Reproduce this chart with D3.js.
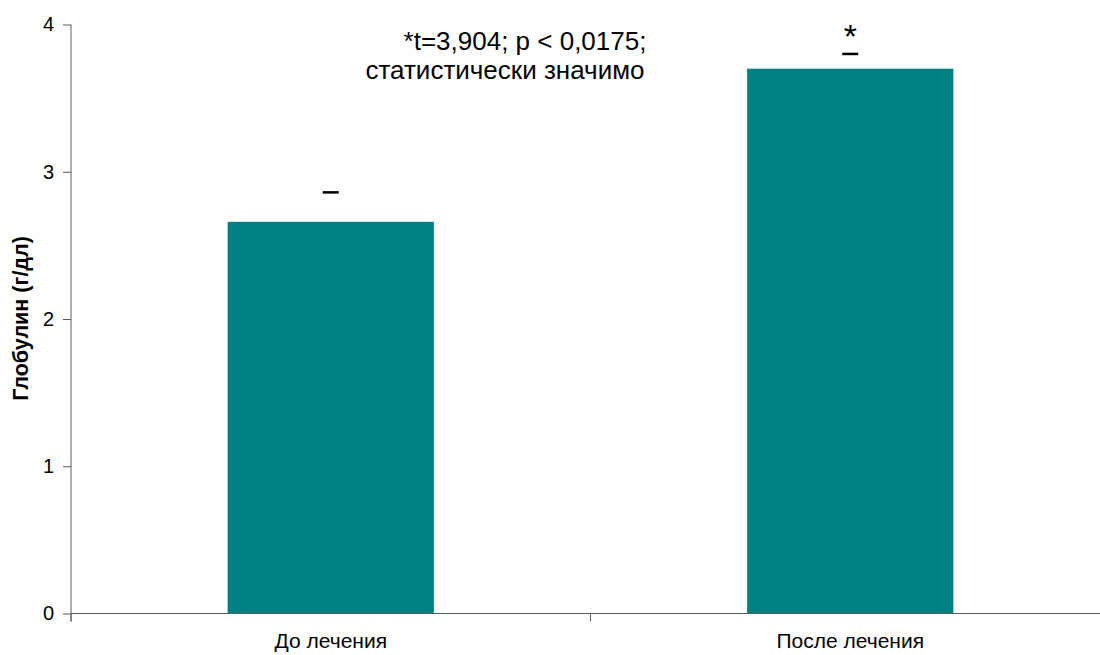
<!DOCTYPE html>
<html>
<head>
<meta charset="utf-8">
<script src="https://cdn.jsdelivr.net/npm/d3@7"></script>
<style>
  html, body { margin: 0; padding: 0; background: #fff; }
  svg { display: block; font-family: "Liberation Sans", Arial, sans-serif; }
</style>
</head>
<body>
<svg id="chart" width="1100" height="655"></svg>
<script>
// Globulin level before and after treatment (g/dl), mean with upper error cap
const categories = ["До лечения", "После лечения"];
const means = [2.66, 3.70];
const errors = [0.20, 0.10];
const significant = [false, true];
const yTicks = [0, 1, 2, 3, 4];
const yTitle = "Глобулин (г/дл)";
const noteLines = ["*t=3,904; p < 0,0175;", "статистически значимо"];

const svg = d3.select("#chart");
const plotLeft = 71, plotRight = 1110, plotTop = 24.5, plotBottom = 613.5;

const x = d3.scaleBand().domain(categories).range([plotLeft, plotRight]).padding(0);
const y = d3.scaleLinear().domain([0, 4]).range([plotBottom, plotTop]);
const barW = x.bandwidth() * 0.397;
const capW = 16;
const axisColor = "#5a5a5a";

// Bars
svg.selectAll("rect.bar").data(categories).join("rect")
  .attr("class", "bar")
  .attr("x", (d) => x(d) + x.bandwidth() / 2 - barW / 2)
  .attr("y", (d, i) => y(means[i]))
  .attr("width", barW)
  .attr("height", (d, i) => y(0) - y(means[i]))
  .attr("fill", "#008080");

// Error caps
svg.selectAll("line.cap").data(categories).join("line")
  .attr("class", "cap")
  .attr("x1", (d) => x(d) + x.bandwidth() / 2 - capW / 2)
  .attr("x2", (d) => x(d) + x.bandwidth() / 2 + capW / 2)
  .attr("y1", (d, i) => y(means[i] + errors[i]))
  .attr("y2", (d, i) => y(means[i] + errors[i]))
  .attr("stroke", "#000")
  .attr("stroke-width", 2.5);

// Significance marks
svg.selectAll("text.star").data(categories.filter((d, i) => significant[i])).join("text")
  .attr("class", "star")
  .attr("x", (d) => x(d) + x.bandwidth() / 2)
  .attr("y", (d) => y(means[categories.indexOf(d)] + errors[categories.indexOf(d)]) - 6)
  .attr("text-anchor", "middle")
  .attr("font-size", 34)
  .text("*");

// Y axis
const yAxis = svg.append("g")
  .attr("transform", `translate(${plotLeft},0)`)
  .call(d3.axisLeft(y).tickValues(yTicks).tickFormat(d3.format("d")).tickSize(8).tickPadding(9));
yAxis.select(".domain").attr("stroke", axisColor).attr("d", `M-0,${plotTop}V${plotBottom + 8}`);
yAxis.selectAll(".tick line").attr("stroke", axisColor);
yAxis.selectAll(".tick text").attr("font-size", 20).attr("fill", "#000")
  .attr("font-family", "Liberation Sans, Arial, sans-serif");

// X axis: ticks at category boundaries
const boundaries = [plotLeft, x(categories[1])];
svg.append("line")
  .attr("x1", plotLeft).attr("x2", 1100)
  .attr("y1", plotBottom).attr("y2", plotBottom)
  .attr("stroke", axisColor);
svg.selectAll("line.xtick").data(boundaries).join("line")
  .attr("class", "xtick")
  .attr("x1", (d) => d).attr("x2", (d) => d)
  .attr("y1", plotBottom).attr("y2", plotBottom + 8)
  .attr("stroke", axisColor);
svg.selectAll("text.xlabel").data(categories).join("text")
  .attr("class", "xlabel")
  .attr("x", (d) => x(d) + x.bandwidth() / 2)
  .attr("y", 648)
  .attr("text-anchor", "middle")
  .attr("font-size", 21)
  .text((d) => d);

// Y axis title
svg.append("text")
  .attr("transform", `translate(28,${(232 + 405) / 2}) rotate(-90)`)
  .attr("text-anchor", "middle")
  .attr("font-size", 21.5)
  .attr("font-weight", "bold")
  .text(yTitle);

// Statistical note
svg.append("text").attr("x", 525).attr("y", 50).attr("text-anchor", "middle")
  .attr("font-size", 26).text(noteLines[0]);
svg.append("text").attr("x", 505).attr("y", 79).attr("text-anchor", "middle")
  .attr("font-size", 26).text(noteLines[1]);
</script>
</body>
</html>
